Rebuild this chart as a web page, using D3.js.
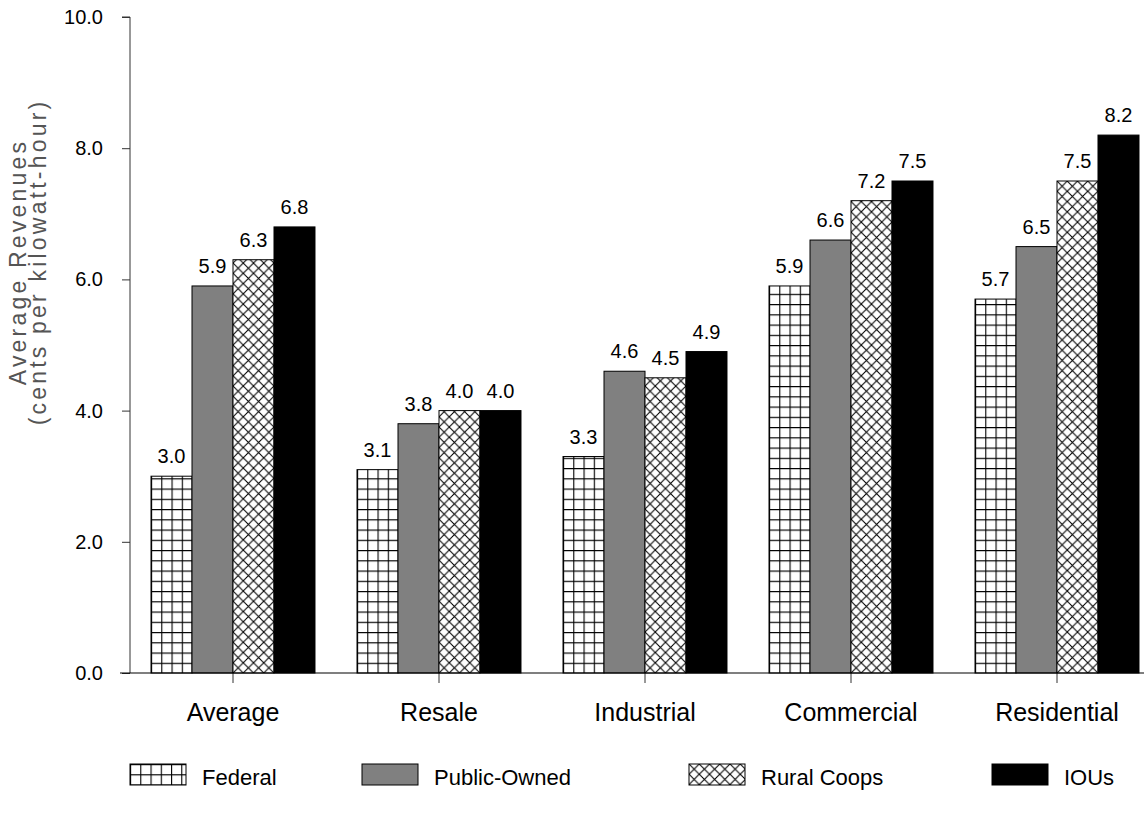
<!DOCTYPE html>
<html>
<head>
<meta charset="utf-8">
<script src="https://cdn.jsdelivr.net/npm/d3@7"></script>
<style>
  html, body { margin: 0; padding: 0; background: #fff; }
  svg { display: block; font-family: "Liberation Sans", Arial, sans-serif; }
</style>
</head>
<body>
<svg id="chart" width="1144" height="815"></svg>
<script>
// ---- data ----
const categories = ["Average", "Resale", "Industrial", "Commercial", "Residential"];
const seriesNames = ["Federal", "Public-Owned", "Rural Coops", "IOUs"];
const federal     = [3.0, 3.1, 3.3, 5.9, 5.7];
const publicOwned = [5.9, 3.8, 4.6, 6.6, 6.5];
const ruralCoops  = [6.3, 4.0, 4.5, 7.2, 7.5];
const ious        = [6.8, 4.0, 4.9, 7.5, 8.2];
const yTicks = [0, 2, 4, 6, 8, 10];
const yTitle1 = "Average Revenues";
const yTitle2 = "(cents per kilowatt-hour)";

const seriesValues = [federal, publicOwned, ruralCoops, ious];

const svg = d3.select("#chart");
const defs = svg.append("defs");

const x0 = d3.scaleBand().domain(categories).range([130, 1160])
  .paddingInner(0.204).paddingOuter(0.102);
const x1 = d3.scaleBand().domain(seriesNames).range([0, x0.bandwidth()]);
const y = d3.scaleLinear().domain([0, 10]).range([673, 17]);

// patterns
function gridPattern(id, ox, oy, s) {
  const p = defs.append("pattern").attr("id", id).attr("patternUnits", "userSpaceOnUse")
    .attr("x", ox).attr("y", oy).attr("width", s).attr("height", s);
  p.append("rect").attr("width", s).attr("height", s).attr("fill", "#fff");
  p.append("path").attr("d", `M0,0.5H${s}M0.5,0V${s}`).attr("stroke", "#000").attr("stroke-width", 1.2).attr("fill", "none");
}
function crossPattern(id, ox, oy, s) {
  const p = defs.append("pattern").attr("id", id).attr("patternUnits", "userSpaceOnUse")
    .attr("x", ox).attr("y", oy).attr("width", s).attr("height", s);
  p.append("rect").attr("width", s).attr("height", s).attr("fill", "#fff");
  p.append("path").attr("d", `M0,0L${s},${s}M${s},0L0,${s}`)
    .attr("stroke", "#000").attr("stroke-width", 1.1).attr("fill", "none");
}

function fillFor(si, id, bx, by) {
  const s = x1.bandwidth() / 4;
  if (si === 0) { gridPattern(id, bx, by, s); return `url(#${id})`; }
  if (si === 1) return "#808080";
  if (si === 2) { crossPattern(id, bx, by, s); return `url(#${id})`; }
  return "#000";
}

// bars
const data = [];
categories.forEach((c, ci) => {
  seriesNames.forEach((sname, si) => {
    data.push({ c, ci, s: sname, si, v: seriesValues[si][ci] });
  });
});

const g = svg.append("g");
g.selectAll("rect.bar").data(data).join("rect")
  .attr("class", "bar")
  .attr("x", d => x0(d.c) + x1(d.s))
  .attr("y", d => y(d.v))
  .attr("width", x1.bandwidth())
  .attr("height", d => y(0) - y(d.v))
  .attr("fill", d => fillFor(d.si, `p${d.si}_${d.ci}`, x0(d.c) + x1(d.s), y(0)))
  .attr("stroke", "#000")
  .attr("stroke-width", 1);

g.selectAll("text.val").data(data).join("text")
  .attr("class", "val")
  .attr("x", d => x0(d.c) + x1(d.s) + x1.bandwidth() / 2)
  .attr("y", d => y(d.v) - 13)
  .attr("text-anchor", "middle")
  .attr("font-size", 20)
  .attr("fill", "#000")
  .text(d => d.v.toFixed(1));

// y axis
const yAxis = d3.axisLeft(y).tickValues(yTicks).tickFormat(d3.format(".1f")).tickSize(8).tickPadding(19);
const ya = svg.append("g").attr("transform", "translate(130,0)").call(yAxis);
ya.select(".domain").attr("stroke", "#333").attr("d", `M-8,${y(10)}H0V${y(0)}`);
ya.selectAll(".tick line").attr("stroke", "#333");
ya.selectAll(".tick text").attr("font-size", 20).attr("font-family", "Liberation Sans, Arial, sans-serif").attr("fill", "#000");

// x axis
const xAxis = d3.axisBottom(x0).tickSize(10).tickSizeOuter(0).tickPadding(20);
const xa = svg.append("g").attr("transform", `translate(0,${y(0)})`).call(xAxis);
xa.select(".domain").remove();
xa.append("line").attr("x1", 120).attr("x2", 1144).attr("y1", 0).attr("y2", 0).attr("stroke", "#000").attr("stroke-width", 1.2);
xa.selectAll(".tick line").attr("stroke", "#333");
xa.selectAll(".tick text").attr("font-size", 25).attr("font-family", "Liberation Sans, Arial, sans-serif").attr("fill", "#000");

// y title
const yt = svg.append("text").attr("transform", `translate(0,262) rotate(-90)`)
  .attr("text-anchor", "middle").attr("font-size", 23).attr("fill", "#555")
  .attr("letter-spacing", 3.2);
yt.append("tspan").attr("x", 0).attr("y", 26).text(yTitle1);
yt.append("tspan").attr("x", 0).attr("y", 46).text(yTitle2);

// legend
const legX = [130, 362, 689, 992];
const leg = svg.append("g");
seriesNames.forEach((sname, si) => {
  const bx = legX[si], by = 764;
  leg.append("rect").attr("x", bx).attr("y", by).attr("width", 56).attr("height", 21)
    .attr("fill", fillFor(si, `leg${si}`, bx, by))
    .attr("stroke", "#000").attr("stroke-width", 1);
  leg.append("text").attr("x", bx + 72).attr("y", by + 21).attr("font-size", 22).attr("fill", "#000").text(sname);
});
</script>
</body>
</html>
